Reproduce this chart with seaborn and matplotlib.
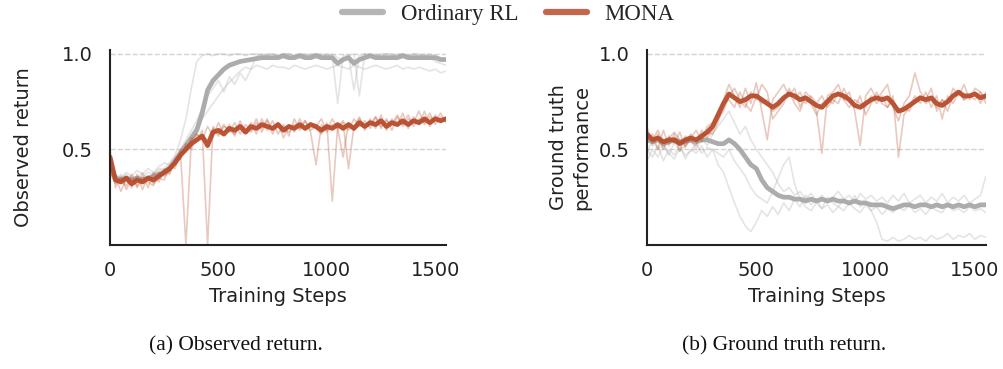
import numpy as np
import pandas as pd
import matplotlib
matplotlib.use("Agg")
import matplotlib.pyplot as plt
import seaborn as sns

# training steps, one value every 25 steps
steps = np.arange(0, 1551, 25)

# ---- (a) observed return ----
obs_rl_mean = [
    0.40, 0.35, 0.34, 0.35, 0.34, 0.35, 0.34, 0.35, 0.36, 0.37, 0.38, 0.40, 0.44, 0.48, 0.52, 0.56,
    0.60, 0.69, 0.81, 0.86, 0.89, 0.92, 0.94, 0.95, 0.96, 0.965, 0.97, 0.975, 0.98, 0.98, 0.98, 0.98,
    0.99, 0.98, 0.98, 0.99, 0.98, 0.98, 0.99, 0.98, 0.98, 0.98, 0.95, 0.97, 0.98, 0.95, 0.97, 0.98,
    0.99, 0.98, 0.98, 0.98, 0.98, 0.98, 0.99, 0.98, 0.98, 0.98, 0.98, 0.98, 0.98, 0.97, 0.97]
obs_rl_runs = [
    [0.42, 0.36, 0.35, 0.37, 0.34, 0.36, 0.35, 0.38, 0.37, 0.39, 0.40, 0.43, 0.47, 0.55, 0.66, 0.82,
     0.96, 0.99, 1.00, 0.99, 1.00, 1.00, 0.99, 1.00, 1.00, 0.99, 1.00, 1.00, 0.99, 1.00, 1.00, 0.99,
     1.00, 1.00, 0.99, 1.00, 1.00, 0.99, 1.00, 1.00, 0.99, 1.00, 0.98, 0.97, 0.99, 1.00, 0.78, 1.00,
     1.00, 0.99, 1.00, 1.00, 0.99, 1.00, 1.00, 0.99, 1.00, 1.00, 0.99, 1.00, 0.99, 0.98, 0.97],
    [0.38, 0.34, 0.37, 0.33, 0.36, 0.35, 0.38, 0.34, 0.37, 0.40, 0.39, 0.42, 0.45, 0.50, 0.53, 0.58,
     0.62, 0.66, 0.70, 0.74, 0.78, 0.82, 0.85, 0.88, 0.91, 0.93, 0.92, 0.94, 0.93, 0.92, 0.94, 0.93,
     0.93, 0.92, 0.94, 0.93, 0.92, 0.93, 0.94, 0.93, 0.92, 0.93, 0.94, 0.93, 0.92, 0.94, 0.93, 0.92,
     0.93, 0.94, 0.93, 0.92, 0.93, 0.94, 0.92, 0.93, 0.92, 0.93, 0.92, 0.91, 0.92, 0.90, 0.91],
    [0.40, 0.37, 0.35, 0.38, 0.36, 0.39, 0.37, 0.40, 0.38, 0.41, 0.43, 0.42, 0.46, 0.50, 0.55, 0.60,
     0.65, 0.72, 0.78, 0.82, 0.86, 0.80, 0.88, 0.84, 0.90, 0.86, 0.92, 0.99, 1.00, 0.99, 1.00, 0.99,
     1.00, 1.00, 0.99, 1.00, 0.99, 1.00, 1.00, 0.99, 1.00, 0.99, 0.74, 0.99, 0.99, 0.81, 0.99, 1.00,
     0.99, 1.00, 0.99, 1.00, 1.00, 0.99, 1.00, 0.99, 1.00, 0.99, 1.00, 0.98, 0.96, 0.95, 0.94],
]
obs_mona_mean = [
    0.46, 0.34, 0.33, 0.35, 0.32, 0.34, 0.33, 0.35, 0.34, 0.36, 0.38, 0.40, 0.43, 0.47, 0.50, 0.53,
    0.55, 0.57, 0.52, 0.59, 0.60, 0.58, 0.61, 0.60, 0.62, 0.59, 0.62, 0.61, 0.63, 0.62, 0.61, 0.63,
    0.60, 0.62, 0.61, 0.63, 0.61, 0.63, 0.62, 0.60, 0.62, 0.61, 0.63, 0.61, 0.63, 0.61, 0.64, 0.62,
    0.64, 0.63, 0.65, 0.62, 0.64, 0.63, 0.65, 0.63, 0.65, 0.64, 0.66, 0.64, 0.66, 0.65, 0.66]
obs_mona_runs = [
    [0.50, 0.30, 0.36, 0.29, 0.35, 0.31, 0.37, 0.30, 0.38, 0.33, 0.40, 0.37, 0.45, 0.48, 0.00, 0.55,
     0.58, 0.55, 0.62, 0.57, 0.64, 0.58, 0.63, 0.57, 0.65, 0.59, 0.64, 0.58, 0.66, 0.60, 0.65, 0.58,
     0.63, 0.57, 0.66, 0.60, 0.65, 0.59, 0.42, 0.63, 0.60, 0.66, 0.61, 0.64, 0.40, 0.62, 0.67, 0.60,
     0.66, 0.61, 0.68, 0.60, 0.66, 0.62, 0.69, 0.61, 0.67, 0.63, 0.70, 0.62, 0.68, 0.64, 0.67],
    [0.42, 0.36, 0.28, 0.35, 0.30, 0.37, 0.29, 0.36, 0.32, 0.35, 0.34, 0.41, 0.40, 0.50, 0.49, 0.56,
     0.54, 0.60, 0.00, 0.62, 0.58, 0.63, 0.59, 0.64, 0.58, 0.63, 0.60, 0.66, 0.59, 0.65, 0.60, 0.64,
     0.56, 0.63, 0.59, 0.66, 0.60, 0.64, 0.61, 0.58, 0.64, 0.23, 0.62, 0.65, 0.60, 0.66, 0.62, 0.65,
     0.61, 0.67, 0.62, 0.66, 0.60, 0.67, 0.63, 0.68, 0.62, 0.66, 0.64, 0.69, 0.63, 0.67, 0.65],
    [0.38, 0.32, 0.35, 0.31, 0.37, 0.30, 0.35, 0.33, 0.31, 0.38, 0.36, 0.38, 0.44, 0.45, 0.53, 0.50,
     0.58, 0.56, 0.55, 0.61, 0.57, 0.62, 0.60, 0.58, 0.63, 0.61, 0.59, 0.64, 0.61, 0.66, 0.58, 0.64,
     0.61, 0.59, 0.63, 0.61, 0.65, 0.60, 0.62, 0.66, 0.59, 0.63, 0.61, 0.46, 0.64, 0.60, 0.66, 0.62,
     0.63, 0.67, 0.61, 0.65, 0.63, 0.68, 0.62, 0.66, 0.64, 0.70, 0.63, 0.67, 0.65, 0.69, 0.64],
]

# ---- (b) ground truth return ----
gt_rl_mean = [
    0.55, 0.54, 0.55, 0.53, 0.54, 0.55, 0.54, 0.54, 0.55, 0.54, 0.55, 0.55, 0.54, 0.53, 0.53, 0.55,
    0.53, 0.50, 0.46, 0.42, 0.40, 0.34, 0.30, 0.28, 0.26, 0.25, 0.25, 0.24, 0.24, 0.23, 0.24, 0.23,
    0.24, 0.23, 0.24, 0.23, 0.23, 0.22, 0.23, 0.22, 0.22, 0.21, 0.21, 0.21, 0.20, 0.19, 0.20, 0.21,
    0.21, 0.20, 0.21, 0.21, 0.20, 0.21, 0.20, 0.21, 0.20, 0.21, 0.20, 0.21, 0.20, 0.21, 0.21]
gt_rl_runs = [
    [0.50, 0.46, 0.52, 0.44, 0.50, 0.47, 0.53, 0.45, 0.50, 0.48, 0.52, 0.46, 0.50, 0.42, 0.38, 0.30,
     0.22, 0.15, 0.10, 0.07, 0.12, 0.18, 0.15, 0.20, 0.16, 0.22, 0.18, 0.24, 0.20, 0.26, 0.21, 0.24,
     0.19, 0.25, 0.22, 0.20, 0.24, 0.21, 0.26, 0.20, 0.23, 0.18, 0.12, 0.03, 0.02, 0.04, 0.02, 0.03,
     0.05, 0.03, 0.04, 0.02, 0.05, 0.03, 0.04, 0.06, 0.03, 0.05, 0.04, 0.06, 0.03, 0.05, 0.04],
    [0.48, 0.55, 0.50, 0.53, 0.47, 0.54, 0.49, 0.52, 0.55, 0.50, 0.56, 0.52, 0.58, 0.62, 0.66, 0.70,
     0.64, 0.58, 0.62, 0.55, 0.50, 0.46, 0.42, 0.38, 0.32, 0.28, 0.30, 0.26, 0.28, 0.24, 0.27, 0.23,
     0.26, 0.22, 0.25, 0.28, 0.24, 0.26, 0.22, 0.27, 0.24, 0.26, 0.23, 0.25, 0.22, 0.26, 0.23, 0.27,
     0.22, 0.24, 0.26, 0.22, 0.25, 0.23, 0.27, 0.22, 0.25, 0.23, 0.26, 0.22, 0.24, 0.26, 0.36],
    [0.44, 0.50, 0.46, 0.52, 0.48, 0.45, 0.51, 0.47, 0.49, 0.53, 0.48, 0.51, 0.50, 0.48, 0.46, 0.50,
     0.44, 0.40, 0.36, 0.30, 0.26, 0.24, 0.22, 0.28, 0.35, 0.42, 0.46, 0.32, 0.24, 0.20, 0.18, 0.22,
     0.19, 0.21, 0.17, 0.20, 0.18, 0.22, 0.19, 0.17, 0.21, 0.18, 0.20, 0.16, 0.19, 0.17, 0.20, 0.18,
     0.21, 0.17, 0.19, 0.16, 0.20, 0.18, 0.17, 0.21, 0.18, 0.19, 0.17, 0.20, 0.18, 0.19, 0.17],
]
gt_mona_mean = [
    0.58, 0.55, 0.56, 0.54, 0.55, 0.55, 0.53, 0.55, 0.56, 0.55, 0.57, 0.59, 0.62, 0.68, 0.74, 0.79,
    0.77, 0.75, 0.76, 0.78, 0.78, 0.76, 0.74, 0.72, 0.74, 0.77, 0.79, 0.78, 0.76, 0.77, 0.75, 0.73,
    0.72, 0.75, 0.78, 0.79, 0.78, 0.76, 0.73, 0.72, 0.74, 0.76, 0.77, 0.76, 0.77, 0.74, 0.70, 0.71,
    0.73, 0.75, 0.77, 0.76, 0.77, 0.74, 0.73, 0.75, 0.78, 0.80, 0.78, 0.78, 0.79, 0.77, 0.78]
gt_mona_runs = [
    [0.62, 0.52, 0.58, 0.50, 0.57, 0.53, 0.59, 0.51, 0.56, 0.60, 0.54, 0.62, 0.64, 0.70, 0.76, 0.84,
     0.78, 0.72, 0.82, 0.74, 0.85, 0.70, 0.55, 0.76, 0.80, 0.84, 0.78, 0.82, 0.72, 0.80, 0.77, 0.70,
     0.48, 0.78, 0.80, 0.84, 0.76, 0.80, 0.70, 0.52, 0.78, 0.82, 0.76, 0.80, 0.84, 0.72, 0.65, 0.74,
     0.78, 0.90, 0.80, 0.76, 0.82, 0.70, 0.76, 0.74, 0.82, 0.78, 0.84, 0.76, 0.82, 0.80, 0.76],
    [0.54, 0.58, 0.50, 0.60, 0.52, 0.58, 0.49, 0.57, 0.54, 0.52, 0.60, 0.56, 0.60, 0.66, 0.70, 0.78,
     0.82, 0.76, 0.72, 0.80, 0.76, 0.84, 0.80, 0.66, 0.70, 0.74, 0.82, 0.76, 0.80, 0.74, 0.78, 0.74,
     0.78, 0.72, 0.76, 0.74, 0.82, 0.76, 0.72, 0.78, 0.68, 0.74, 0.80, 0.74, 0.72, 0.78, 0.46, 0.68,
     0.72, 0.78, 0.74, 0.80, 0.72, 0.78, 0.66, 0.78, 0.74, 0.80, 0.76, 0.78, 0.80, 0.74, 0.80],
    [0.58, 0.55, 0.60, 0.53, 0.56, 0.59, 0.55, 0.52, 0.58, 0.55, 0.57, 0.59, 0.58, 0.64, 0.74, 0.76,
     0.72, 0.80, 0.74, 0.70, 0.78, 0.74, 0.76, 0.70, 0.72, 0.76, 0.80, 0.74, 0.70, 0.78, 0.74, 0.68,
     0.74, 0.76, 0.74, 0.80, 0.76, 0.72, 0.76, 0.74, 0.72, 0.78, 0.74, 0.78, 0.72, 0.76, 0.70, 0.72,
     0.70, 0.76, 0.78, 0.74, 0.76, 0.72, 0.76, 0.70, 0.78, 0.80, 0.76, 0.78, 0.76, 0.80, 0.74],
]

methods = ["Ordinary RL", "MONA"]
colors = {"Ordinary RL": "#a8a8a8", "MONA": "#b84c2c"}

panels = [
    ("Observed return", "(a) Observed return.", 21,
     {"Ordinary RL": (obs_rl_mean, obs_rl_runs), "MONA": (obs_mona_mean, obs_mona_runs)}),
    ("Ground truth\nperformance", "(b) Ground truth return.", 5,
     {"Ordinary RL": (gt_rl_mean, gt_rl_runs), "MONA": (gt_mona_mean, gt_mona_runs)}),
]
caption_x = [0.235, 0.781]

sns.set_theme(style="white")
plt.rcParams["font.family"] = ["DejaVu Sans"]
serif = ["Liberation Serif", "DejaVu Serif"]

fig = plt.figure(figsize=(10.04, 3.69), dpi=100)
ax_left = fig.add_axes([0.1096, 0.336, 0.3347, 0.5285])
ax_right = fig.add_axes([0.6444, 0.336, 0.3376, 0.5285])

for ax, (ylabel, caption, ypad, series), cx in zip([ax_left, ax_right], panels, caption_x):
    # each method: faint seeds, then its thick mean
    for m in methods:
        for run in series[m][1]:
            sns.lineplot(x=steps, y=run, ax=ax, color=colors[m], alpha=0.3, lw=1.2)
        sns.lineplot(x=steps, y=series[m][0], ax=ax, color=colors[m], alpha=0.95, lw=3.4)

    ax.set_xlim(0, 1550)
    ax.set_ylim(0, 1.02)
    ax.set_xticks([0, 500, 1000, 1500])
    ax.set_yticks([0.5, 1.0])
    ax.set_yticklabels(["0.5", "1.0"])
    ax.tick_params(labelsize=14, length=0, labelcolor="#222222")
    ax.tick_params(axis="x", pad=11.5)
    ax.tick_params(axis="y", pad=12.5)
    ax.yaxis.grid(True, linestyle="--", color="#d3d3d3", lw=1.0)
    ax.set_axisbelow(True)
    sns.despine(ax=ax)
    for s in ["left", "bottom"]:
        ax.spines[s].set_color("#222222")
        ax.spines[s].set_linewidth(1.5)
    ax.set_xlabel("Training Steps", fontsize=14, color="#222222", labelpad=5)
    ax.set_ylabel(ylabel, fontsize=14, color="#222222", labelpad=ypad, linespacing=1.3)
    fig.text(cx, 0.062, caption, ha="center", va="center",
             fontsize=15.5, family=serif, color="#111111")

# shared legend at the top
handles = [plt.Line2D([0], [0], color=colors[m], lw=4.5, solid_capstyle="round", alpha=0.85)
           for m in methods]
fig.legend(handles, methods, loc="center", bbox_to_anchor=(0.506, 0.962), ncol=2, frameon=False,
           prop={"family": serif, "size": 16.5},
           handlelength=1.8, columnspacing=1.2, handletextpad=0.75)

fig.savefig("out.png", dpi=100)
